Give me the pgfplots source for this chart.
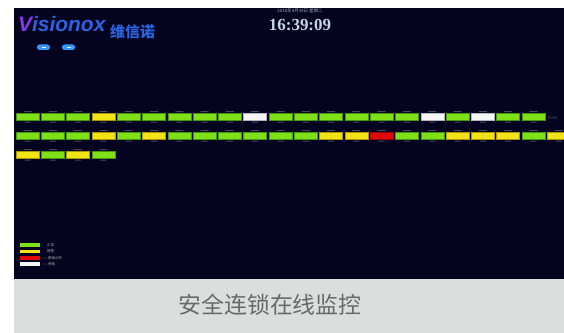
\documentclass[border=0pt]{standalone}
\usepackage{fontspec}
\setmainfont{Liberation Sans}
\newfontfamily\cjk{Noto Sans CJK SC}
\newfontfamily\serifclock{Liberation Serif}
\usepackage{pgfplots}
\usepackage{pgfplotstable}
\pgfplotsset{compat=1.18}
\definecolor{navy}{RGB}{5,4,32}
\definecolor{capgray}{RGB}{220,222,221}
\definecolor{captext}{RGB}{105,105,105}
\definecolor{gfill}{RGB}{128,224,24}
\definecolor{gdraw}{RGB}{70,150,20}
\definecolor{yfill}{RGB}{240,228,20}
\definecolor{ydraw}{RGB}{170,150,10}
\definecolor{rfill}{RGB}{225,10,10}
\definecolor{rdraw}{RGB}{150,0,0}
\definecolor{wfill}{RGB}{245,245,245}
\definecolor{wdraw}{RGB}{180,180,190}
\definecolor{logoblue}{RGB}{40,100,225}
\definecolor{clock}{RGB}{195,212,230}
\pgfdeclareplotmark{barmark}{\pgfpathrectangle{\pgfqpoint{-11.5bp}{-3.6bp}}{\pgfqpoint{23bp}{7.2bp}}\pgfusepathqfillstroke}
\pgfdeclareplotmark{lblmark}{%
  \pgfpathrectangle{\pgfqpoint{-4bp}{4.8bp}}{\pgfqpoint{8bp}{1.1bp}}%
  \pgfpathrectangle{\pgfqpoint{-3bp}{-5.6bp}}{\pgfqpoint{6bp}{1bp}}\pgfusepathqfill}
% status bars: x centre, y centre (pixels from top), state
\pgfplotstableread{
x y c
27.5 117 G
52.8 117 G
78.1 117 G
103.4 117 Y
128.7 117 G
154.0 117 G
179.3 117 G
204.6 117 G
229.9 117 G
255.2 117 W
280.5 117 G
305.8 117 G
331.1 117 G
356.4 117 G
381.7 117 G
407.0 117 G
432.3 117 W
457.6 117 G
482.9 117 W
508.2 117 G
533.5 117 G
27.5 136 G
52.8 136 G
78.1 136 G
103.4 136 Y
128.7 136 G
154.0 136 Y
179.3 136 G
204.6 136 G
229.9 136 G
255.2 136 G
280.5 136 G
305.8 136 G
331.1 136 Y
356.4 136 Y
381.7 136 R
407.0 136 G
432.3 136 G
457.6 136 Y
482.9 136 Y
508.2 136 Y
533.5 136 G
558.8 136 Y
27.5 155 Y
52.8 155 G
78.1 155 Y
103.4 155 G
}\bars
\begin{document}
\begin{tikzpicture}
\begin{axis}[
  width=564bp, height=333bp, scale only axis,
  xmin=0, xmax=564, ymin=0, ymax=333, y dir=reverse,
  axis lines=none, ticks=none, clip marker paths=true,
]
\fill[white] (0,0) rectangle (564,333);
\fill[navy] (14,8) rectangle (564,279);
\fill[capgray] (14,279) rectangle (564,333);
% logo
\node[anchor=west, text=logoblue, font=\bfseries\itshape\fontsize{21}{21}\selectfont, inner sep=0pt] at (18,24) {\textcolor{logoblue!55!magenta}{V}isionox};
\node[anchor=west, text=logoblue, font=\cjk\bfseries\fontsize{15}{15}\selectfont, inner sep=0pt] at (110,32) {维信诺};
\fill[blue!50!cyan!80!white, rounded corners=2.5bp] (37,44.5) rectangle (50,50);
\fill[blue!50!cyan!80!white, rounded corners=2.5bp] (62,44.5) rectangle (75,50);
\fill[white] (41.5,47) rectangle (45.5,47.8);
\fill[white] (66.5,47) rectangle (70.5,47.8);
% clock
\node[text=clock!80!navy, font=\cjk\fontsize{4.5}{4.5}\selectfont, inner sep=0pt] at (300,11) {2018年4月10日 星期二};
\node[text=clock, font=\serifclock\bfseries\fontsize{17}{17}\selectfont, inner sep=0pt] at (300,24.5) {16:39:09};
% tiny labels near bars
\addplot[only marks, mark=lblmark, color=gray!55!navy] table[x=x, y=y] {\bars};
% status bars
\addplot[scatter, only marks, scatter src=explicit symbolic, line width=0.6pt,
  scatter/classes={
    G={mark=barmark, fill=gfill, draw=gdraw},
    Y={mark=barmark, fill=yfill, draw=ydraw},
    R={mark=barmark, fill=rfill, draw=rdraw},
    W={mark=barmark, fill=wfill, draw=wdraw}}
] table[x=x, y=y, meta=c] {\bars};
\node[anchor=west, text=gray!60!navy, font=\fontsize{4}{4}\selectfont, inner sep=0pt] at (548,118) {0088};
% legend
\fill[gfill] (20,243) rectangle (40,246.5);
\fill[yfill] (20,249.5) rectangle (40,253);
\fill[rfill] (20,256) rectangle (40,259.5);
\fill[wfill] (20,262) rectangle (40,265.5);
\node[anchor=west, text=gray!70!white, font=\cjk\fontsize{3.5}{3.5}\selectfont, inner sep=0pt] at (47,244.8) {正常};
\node[anchor=west, text=gray!70!white, font=\cjk\fontsize{3.5}{3.5}\selectfont, inner sep=0pt] at (47,251.2) {报警};
\node[anchor=west, text=gray!70!white, font=\cjk\fontsize{3.5}{3.5}\selectfont, inner sep=0pt] at (42,257.7) {——联锁动作};
\node[anchor=west, text=gray!70!white, font=\cjk\fontsize{3.5}{3.5}\selectfont, inner sep=0pt] at (42,263.8) {——旁路};
% caption
\node[text=captext, font=\cjk\fontsize{23}{23}\selectfont, inner sep=0pt] at (270,305) {安全连锁在线监控};
\end{axis}
\end{tikzpicture}
\end{document}
